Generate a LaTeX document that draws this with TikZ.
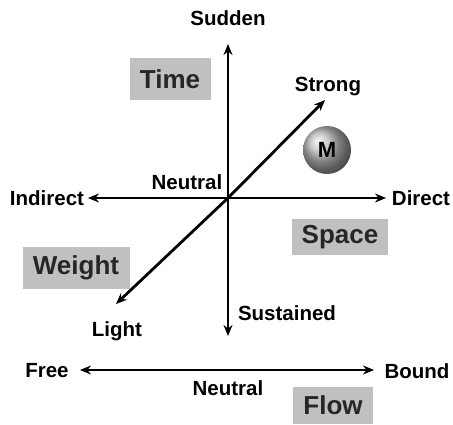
\documentclass[tikz,border=0pt]{standalone}
\usepackage{fontspec}
\setmainfont{Liberation Sans}
\usepackage{tikz}
\usetikzlibrary{arrows.meta,positioning,shapes.geometric}
\usepackage{xcolor}
\definecolor{boxgray} {RGB}{192,192,192}
\definecolor{ballgray}{RGB}{185,185,185}

\begin{document}
\begin{tikzpicture}[
    x=1pt, y=-1pt,
    lbl/.style={font=\fontsize{20.5}{22}\selectfont\bfseries, inner sep=0pt},
    effort/.style={fill=boxgray, font=\fontsize{26}{28}\selectfont\bfseries, minimum width=80pt, minimum height=40pt, inner sep=0pt, text=black!85},
    arrow/.style={-{Stealth[length=11pt,width=9pt]}, line width=2.8pt}
]
    \useasboundingbox (0,0) rectangle (453,425);

    % Axis ends
    \coordinate (o)  at (228,198);
    \coordinate (up) at (228,44);
    \coordinate (dn) at (228,336);
    \coordinate (lt) at (88,198);
    \coordinate (rt) at (386,198);
    \coordinate (st) at (325,100);
    \coordinate (li) at (116,304);
    \coordinate (fr) at (80,370);
    \coordinate (bd) at (374,370);

    % Pole labels
    \node[lbl] (sudden)    at (228,18)  {Sudden};
    \node[lbl] (sustained) at (287,313) {Sustained};
    \node[lbl] (indirect)  at (47,198)  {Indirect};
    \node[lbl] (direct)    at (421,198) {Direct};
    \node[lbl] (strong)    at (328,87)  {Strong};
    \node[lbl] (light)     at (117,331) {Light};
    \node[lbl] (neutral1)  at (187,182) {Neutral};
    \node[lbl] (free)      at (47,371)  {Free};
    \node[lbl] (bound)     at (417,371) {Bound};
    \node[lbl] (neutral2)  at (228,388) {Neutral};

    % Effort factors
    \node[effort, minimum width=81pt, minimum height=42pt] (time)   at (170,79)  {Time};
    \node[effort, minimum width=96pt, minimum height=36pt] (space)  at (340,237) {Space};
    \node[effort, minimum width=107pt, minimum height=41pt] (weight) at (76,268)  {Weight};
    \node[effort, minimum width=80pt, minimum height=37pt] (flow)   at (333,405) {Flow};

    % Marker
    \node[circle, minimum size=48pt, inner sep=0pt, shading=ball, ball color=ballgray, font=\fontsize{22}{24}\selectfont\bfseries] (m) at (327,150) {M};

    % Axes
    \draw[arrow] (o) -- (up);
    \draw[arrow] (o) -- (dn);
    \draw[arrow] (o) -- (lt);
    \draw[arrow] (o) -- (rt);
    \draw[arrow] (o) -- (st);
    \draw[arrow] (o) -- (li);
    \draw[arrow, {Stealth[length=11pt,width=9pt]}-{Stealth[length=11pt,width=9pt]}] (fr) -- (bd);
\end{tikzpicture}
\end{document}
